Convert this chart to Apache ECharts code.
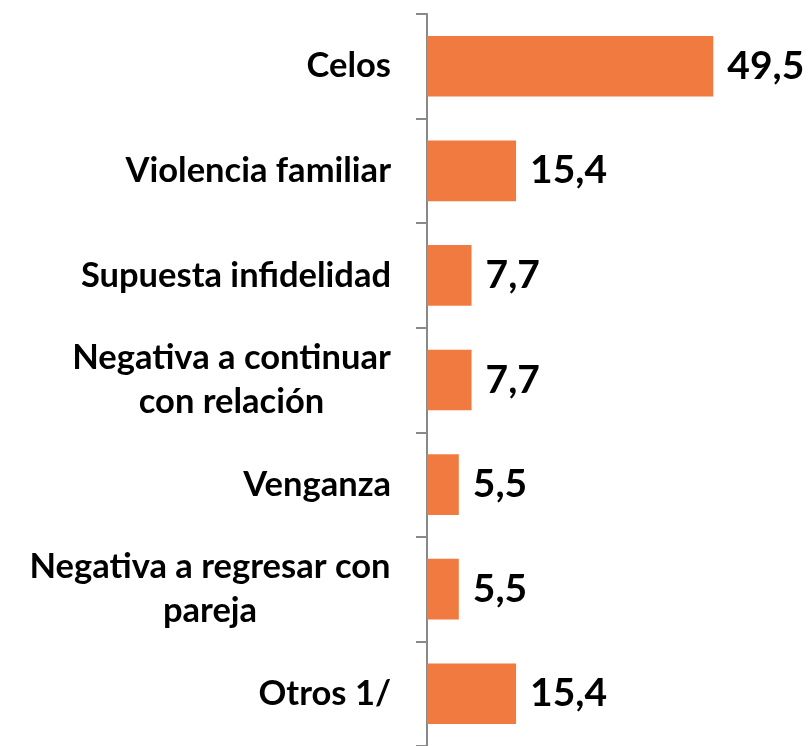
<!DOCTYPE html>
<html>
<head>
<meta charset="utf-8">
<script src="https://cdn.jsdelivr.net/npm/echarts@6/dist/echarts.min.js"></script>
<style>
  html, body { margin: 0; padding: 0; background: #fff; }
  #chart { width: 810px; height: 746px; }
</style>
</head>
<body>
<div id="chart"></div>
<script>
// motivos, de arriba hacia abajo
const categories = [
  'Celos',
  'Violencia familiar',
  'Supuesta infidelidad',
  'Negativa a continuar\ncon relación',
  'Venganza',
  'Negativa a regresar con\npareja',
  'Otros 1/'
]
const values = [49.5, 15.4, 7.7, 7.7, 5.5, 5.5, 15.4]

const font = "Lato, 'Open Sans', sans-serif"
const catSize = 34.5

// multi-line labels: lines centred inside a right-aligned block
const ctx = document.createElement('canvas').getContext('2d')
ctx.font = 'bold ' + catSize + 'px ' + font
const rich = {}
const labelText = categories.map((c, i) => {
  const lines = c.split('\n')
  if (lines.length === 1) return c
  const w = Math.max(...lines.map(l => ctx.measureText(l).width))
  rich['l' + i] = { width: Math.ceil(w), align: 'center' }
  return lines.map(l => '{l' + i + '|' + l + '}').join('\n')
})

const chart = echarts.init(document.getElementById('chart'))
chart.setOption({
  animation: false,
  grid: {
    left: 427,
    right: 36,
    top: 14,
    bottom: -5
  },
  xAxis: {
    type: 'value',
    min: 0,
    max: 60,
    show: false
  },
  yAxis: {
    type: 'category',
    inverse: true,
    data: categories,
    axisLine: {
      lineStyle: { color: '#898989', width: 2 }
    },
    axisTick: {
      show: true,
      length: 11,
      lineStyle: { color: '#898989', width: 2 }
    },
    axisLabel: {
      margin: 36,
      color: '#000',
      fontFamily: font,
      fontWeight: 'bold',
      fontSize: catSize,
      lineHeight: 44,
      align: 'right',
      rich: rich,
      formatter: (v, i) => labelText[i]
    }
  },
  series: [{
    type: 'bar',
    data: values,
    barCategoryGap: '42%',
    itemStyle: { color: '#F07A40' },
    label: {
      show: true,
      position: 'right',
      distance: 14,
      color: '#000',
      fontFamily: font,
      fontWeight: 'bold',
      fontSize: 39,
      formatter: p => String(p.value).replace('.', ',')
    }
  }]
})
</script>
</body>
</html>
